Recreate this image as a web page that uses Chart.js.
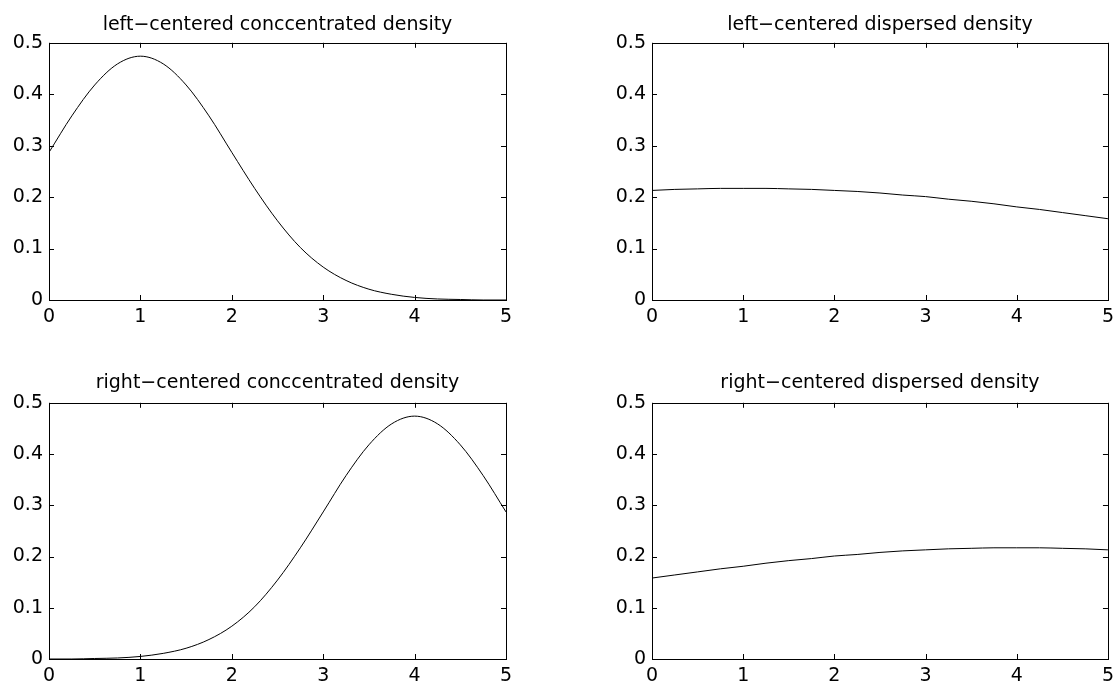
<!DOCTYPE html>
<html>
<head>
<meta charset="utf-8">
<script src="https://cdn.jsdelivr.net/npm/chart.js@4.4.1/dist/chart.umd.min.js"></script>
<style>
  html, body { margin: 0; padding: 0; background: #fff; overflow: hidden; }
  #wrap { position: relative; width: 1120px; height: 681px; }
  canvas { position: absolute; }
</style>
</head>
<body>
<div id="wrap">
  <canvas id="c1" width="560" height="340" style="left:0;top:0"></canvas>
  <canvas id="c2" width="560" height="340" style="left:560px;top:0"></canvas>
  <canvas id="c3" width="560" height="341" style="left:0;top:340px"></canvas>
  <canvas id="c4" width="560" height="341" style="left:560px;top:340px"></canvas>
</div>
<script>
// x grid of the curves, read every 0.25
const xs = [0, 0.25, 0.5, 0.75, 1, 1.25, 1.5, 1.75, 2, 2.25, 2.5, 2.75, 3, 3.25, 3.5, 3.75, 4, 4.25, 4.5, 4.75, 5];

const leftConc = [0.287, 0.358, 0.418, 0.459, 0.474, 0.459, 0.418, 0.358, 0.287, 0.217, 0.154, 0.102, 0.064, 0.038, 0.021, 0.011, 0.005, 0.002, 0.001, 0.000, 0.000];
const leftDisp = [0.213, 0.215, 0.216, 0.217, 0.217, 0.217, 0.216, 0.215, 0.213, 0.211, 0.208, 0.204, 0.201, 0.196, 0.192, 0.187, 0.181, 0.176, 0.170, 0.164, 0.158];
const rightConc = [0.000, 0.000, 0.001, 0.002, 0.005, 0.011, 0.021, 0.038, 0.064, 0.102, 0.154, 0.217, 0.287, 0.358, 0.418, 0.459, 0.474, 0.459, 0.418, 0.358, 0.287];
const rightDisp = [0.158, 0.164, 0.170, 0.176, 0.181, 0.187, 0.192, 0.196, 0.201, 0.204, 0.208, 0.211, 0.213, 0.215, 0.216, 0.217, 0.217, 0.217, 0.216, 0.215, 0.213];

const titles = [
  'left\u2212centered conccentrated density',
  'left\u2212centered dispersed density',
  'right\u2212centered conccentrated density',
  'right\u2212centered dispersed density'
];

const xTicks = [0, 1, 2, 3, 4, 5];
const yTicks = [0, 0.1, 0.2, 0.3, 0.4, 0.5];
const yTickLabels = ['0', '0.1', '0.2', '0.3', '0.4', '0.5'];

Chart.defaults.font.family = '"DejaVu Sans", "Liberation Sans", sans-serif';
Chart.defaults.color = '#000';

// matlab style box with inward ticks on all four sides
const boxPlugin = {
  id: 'boxPlugin',
  afterDatasetsDraw(chart) {
    const { ctx, chartArea: a, scales } = chart;
    ctx.save();
    ctx.strokeStyle = '#000';
    ctx.lineWidth = 1;
    ctx.strokeRect(Math.round(a.left) + 0.5, Math.round(a.top) + 0.5,
      Math.round(a.right - a.left), Math.round(a.bottom - a.top));
    ctx.beginPath();
    xTicks.forEach(v => {
      const px = Math.round(scales.x.getPixelForValue(v)) + 0.5;
      ctx.moveTo(px, a.bottom); ctx.lineTo(px, a.bottom - 5);
      ctx.moveTo(px, a.top); ctx.lineTo(px, a.top + 5);
    });
    yTicks.forEach(v => {
      const py = Math.round(scales.y.getPixelForValue(v)) + 0.5;
      ctx.moveTo(a.left, py); ctx.lineTo(a.left + 5, py);
      ctx.moveTo(a.right, py); ctx.lineTo(a.right - 5, py);
    });
    ctx.stroke();
    ctx.restore();
  }
};

function makeChart(id, title, values, yWidth, pad, xHeight, titlePad) {
  const pts = xs.map((x, i) => ({ x: x, y: values[i] }));
  return new Chart(document.getElementById(id), {
    type: 'line',
    data: {
      datasets: [{
        data: pts,
        borderColor: '#000',
        borderWidth: 1,
        pointRadius: 0,
        fill: false,
        cubicInterpolationMode: 'monotone'
      }]
    },
    options: {
      responsive: false,
      animation: false,
      events: [],
      layout: { padding: pad },
      plugins: {
        legend: { display: false },
        tooltip: { enabled: false },
        title: {
          display: true,
          text: title,
          fullSize: false,
          font: { size: 19, weight: 'normal' },
          padding: titlePad
        }
      },
      scales: {
        x: {
          type: 'linear',
          min: 0, max: 5,
          afterBuildTicks: s => { s.ticks = xTicks.map(v => ({ value: v })); },
          afterFit: s => { s.height = xHeight; },
          ticks: { font: { size: 19 }, padding: 6, maxRotation: 0, callback: v => String(v) },
          grid: { display: false, drawTicks: false },
          border: { display: false }
        },
        y: {
          type: 'linear',
          min: 0, max: 0.5,
          afterBuildTicks: s => { s.ticks = yTicks.map(v => ({ value: v })); },
          afterFit: s => { s.width = yWidth; },
          ticks: { font: { size: 19 }, padding: 6, callback: (v, i) => yTickLabels[i] },
          grid: { display: false, drawTicks: false },
          border: { display: false }
        }
      }
    },
    plugins: [boxPlugin]
  });
}

makeChart('c1', titles[0], leftConc, 49, { left: 0, right: 54, top: 0, bottom: 4 }, 36, { top: 14, bottom: 6 });
makeChart('c2', titles[1], leftDisp, 92, { left: 0, right: 10, top: 0, bottom: 4 }, 36, { top: 14, bottom: 6 });
makeChart('c3', titles[2], rightConc, 49, { left: 0, right: 54, top: 18, bottom: 0 }, 22, { top: 14, bottom: 8 });
makeChart('c4', titles[3], rightDisp, 92, { left: 0, right: 10, top: 18, bottom: 0 }, 22, { top: 14, bottom: 8 });
</script>
</body>
</html>
